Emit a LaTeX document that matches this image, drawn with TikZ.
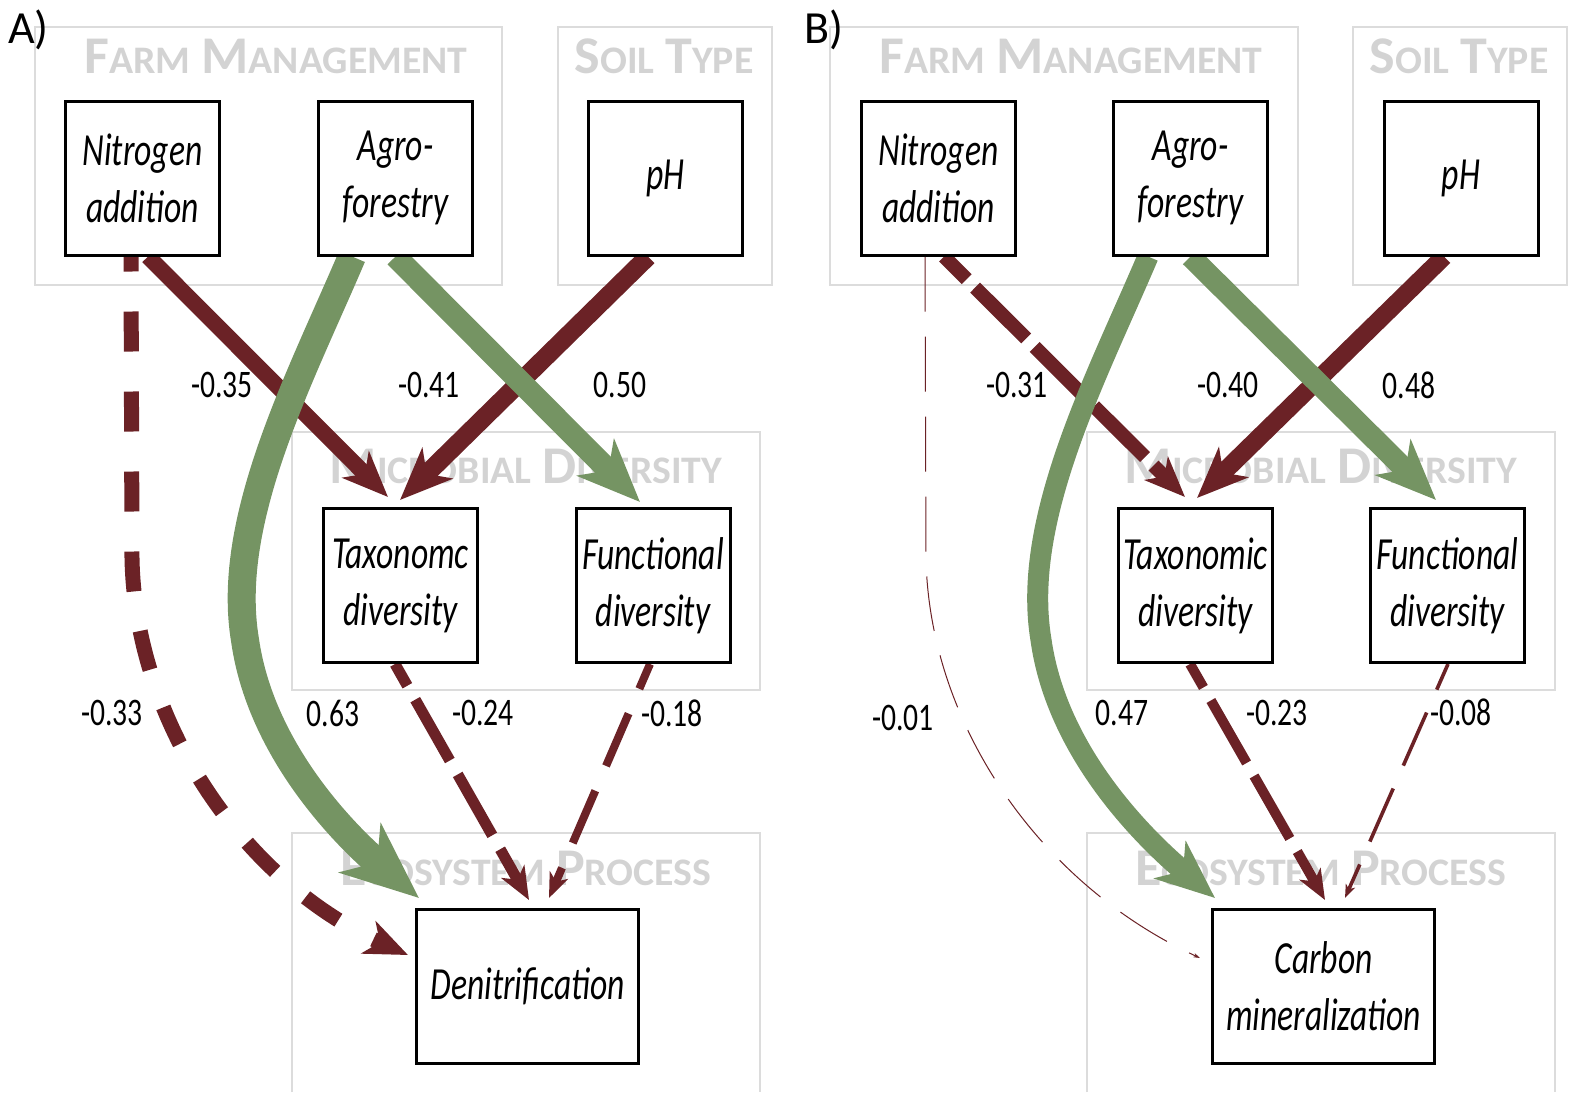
\documentclass[tikz,border=0pt]{standalone}
\usepackage{fontspec}
\setmainfont{Carlito}
\newfontfamily\boxfont[FakeStretch=0.73]{Carlito}
\newfontfamily\numfont[FakeStretch=0.76]{Carlito}
\newfontfamily\grpfont[FakeStretch=1.02]{Carlito}
\usetikzlibrary{arrows.meta,calc}
\definecolor{negred}{HTML}{6B2226}
\definecolor{posgreen}{HTML}{759463}
\definecolor{grpline}{HTML}{DCDCDC}
\definecolor{grptext}{HTML}{D3D3D3}
\pgfdeclarelayer{groups}
\pgfdeclarelayer{paths}
\pgfsetlayers{groups,paths,main}
% small-caps style heading: large initial, smaller capitals
\newcommand{\capword}[2]{{\fontsize{53}{53}\selectfont #1}{\fontsize{39}{39}\selectfont #2}}

\begin{document}
\begin{tikzpicture}[x=1pt,y=-1pt,
  var/.style={draw=black, line width=3pt, fill=white, minimum width=154pt,
    minimum height=154pt, inner sep=0pt, align=center,
    font=\boxfont\itshape\fontsize{46}{57}\selectfont},
  widevar/.style={var, minimum width=222pt},
  grp/.style={draw=grpline, line width=2pt},
  grptitle/.style={anchor=base, text=grptext, font=\grpfont\bfseries, inner sep=0pt},
  coef/.style={font=\numfont\fontsize{39}{39}\selectfont, inner sep=0pt},
  panel/.style={anchor=base west, inner sep=0pt, font=\fontsize{46}{46}\selectfont},
  link/.style={line width=#1, -{Stealth[length=4pt 2.6, width=2pt 2.2, inset=1pt 0.75]}},
  neg/.style={link=#1, color=negred},
  pos/.style={link=#1, color=posgreen}]

\useasboundingbox (0,0) rectangle (1570,1092);

% ---------- group frames and headings ----------
\begin{pgfonlayer}{groups}
  % panel A
  \draw[grp] (35,27) rectangle (502,285);
  \draw[grp] (558,27) rectangle (772,285);
  \draw[grp] (292,432) rectangle (760,690);
  \draw[grp] (292,1092) |- (760,833) -- (760,1092);
  \node[grptitle] (gfA) at (276,73) {\capword{F}{ARM}\hspace{11pt}\capword{M}{ANAGEMENT}};
  \node[grptitle] (gsA) at (664,73) {\capword{S}{OIL}\hspace{11pt}\capword{T}{YPE}};
  \node[grptitle] (gmA) at (526,483) {\capword{M}{ICROBIAL}\hspace{11pt}\capword{D}{IVERSITY}};
  \node[grptitle] (geA) at (526,885) {\capword{E}{COSYSTEM}\hspace{11pt}\capword{P}{ROCESS}};
  % panel B
  \draw[grp] (830,27) rectangle (1298,285);
  \draw[grp] (1353,27) rectangle (1567,285);
  \draw[grp] (1087,432) rectangle (1555,690);
  \draw[grp] (1087,1092) |- (1555,833) -- (1555,1092);
  \node[grptitle] (gfB) at (1071,73) {\capword{F}{ARM}\hspace{11pt}\capword{M}{ANAGEMENT}};
  \node[grptitle] (gsB) at (1459,73) {\capword{S}{OIL}\hspace{11pt}\capword{T}{YPE}};
  \node[grptitle] (gmB) at (1321,483) {\capword{M}{ICROBIAL}\hspace{11pt}\capword{D}{IVERSITY}};
  \node[grptitle] (geB) at (1321,885) {\capword{E}{COSYSTEM}\hspace{11pt}\capword{P}{ROCESS}};
\end{pgfonlayer}

% ---------- panel labels ----------
\node[panel] (pa) at (8,43) {A)};
\node[panel] (pb) at (804,43) {B)};

% ---------- variables ----------
\node[var] (nA) at (142.5,178) {Nitrogen\\addition};
\node[var] (aA) at (395.5,178) {Agro-\\forestry};
\node[var] (pA) at (665.5,178) {\raisebox{-3pt}{pH}};
\node[var] (tA) at (400.5,585.5) {Taxonomc\\diversity};
\node[var] (fA) at (653,585.5) {Functional\\diversity};
\node[widevar] (dA) at (527.5,986.5) {Denitrification};

\node[var] (nB) at (938.5,178) {Nitrogen\\addition};
\node[var] (aB) at (1190.5,178) {Agro-\\forestry};
\node[var] (pB) at (1461,178) {\raisebox{-3pt}{pH}};
\node[var] (tB) at (1195.5,585.5) {Taxonomic\\diversity};
\node[var] (fB) at (1447.5,585.5) {Functional\\diversity};
\node[widevar] (cB) at (1323.5,986.5) {Carbon\\mineralization};

\coordinate (bendA) at (245,640);
\coordinate (bendB) at (1041,640);

% ---------- path coefficients ----------
\begin{pgfonlayer}{paths}
  % panel A
  \draw[neg=16pt] ([xshift=5.5pt]nA.south) -- ([shift={(-12.5,-10)}]tA.north);
  \draw[neg=18.5pt] ([xshift=-17.5pt]pA.south) -- ([shift={(-0.5,-7)}]tA.north);
  \draw[pos=22.5pt] (aA.south) -- ([shift={(-13,-5)}]fA.north);
  \draw[pos=28pt] ([xshift=-43.5pt]aA.south) .. controls +(-52,122) and +(-20,-120) .. (bendA)
     .. controls +(17,120) and +(-59,-50) .. ([shift={(4,-10)}]dA.north west);
  \draw[neg=15pt, dash pattern=on 40pt off 40pt, dash phase=25pt] ([xshift=-11.5pt]nA.south) -- ++(1,302)
     .. controls +(3,160) and +(-168,-75) .. ([shift={(-7,-31.5)}]dA.west);
  \draw[neg=11pt, dash pattern=on 70pt off 16pt, dash phase=45pt] ([xshift=-5.5pt]tA.south) -- ([shift={(1.5,-8)}]dA.north);
  \draw[neg=8pt, dash pattern=on 57pt off 27pt, dash phase=30pt] ([xshift=-3pt]fA.south) -- ([shift={(21.5,-10)}]dA.north);
  % panel B
  \draw[neg=14pt, dash pattern=on 72pt off 12pt, dash phase=40pt] ([xshift=5.5pt]nB.south) -- ([shift={(-10.5,-10)}]tB.north);
  \draw[neg=18pt] ([xshift=-17pt]pB.south) -- ([shift={(1.5,-9)}]tB.north);
  \draw[pos=21.6pt] (aB.south) -- ([shift={(-11.5,-7)}]fB.north);
  \draw[pos=21pt] ([xshift=-42.5pt]aB.south) .. controls +(-52,122) and +(-20,-120) .. (bendB)
     .. controls +(17,120) and +(-59,-50) .. ([shift={(4,-10)}]cB.north west);
  \draw[neg=1pt, dash pattern=on 55pt off 25pt] ([xshift=-13.5pt]nB.south) -- ++(1,302)
     .. controls +(3,160) and +(-166,-77) .. ([shift={(-11,-28.5)}]cB.west);
  \draw[neg=10pt, dash pattern=on 72pt off 15pt, dash phase=45pt] ([xshift=-5.5pt]tB.south) -- ([shift={(1.5,-8)}]cB.north);
  \draw[neg=3.6pt, dash pattern=on 58pt off 25pt, dash phase=30pt] ([xshift=0.5pt]fB.south) -- ([shift={(21.5,-10)}]cB.north);
\end{pgfonlayer}

% ---------- coefficient labels ----------
\node[coef] (kA1) at (222,385) {-0.35};
\node[coef] (kA2) at (429,385) {-0.41};
\node[coef] (kA3) at (620,385) {0.50};
\node[coef] (kA4) at (112,713) {-0.33};
\node[coef] (kA5) at (333,713) {0.63};
\node[coef] (kA6) at (483,713) {-0.24};
\node[coef] (kA7) at (672,713) {-0.18};

\node[coef] (kB1) at (1017,385) {-0.31};
\node[coef] (kB2) at (1228,385) {-0.40};
\node[coef] (kB3) at (1409,385) {0.48};
\node[coef] (kB4) at (903,718) {-0.01};
\node[coef] (kB5) at (1122,713) {0.47};
\node[coef] (kB6) at (1277,713) {-0.23};
\node[coef] (kB7) at (1461,712) {-0.08};
\end{tikzpicture}
\end{document}
